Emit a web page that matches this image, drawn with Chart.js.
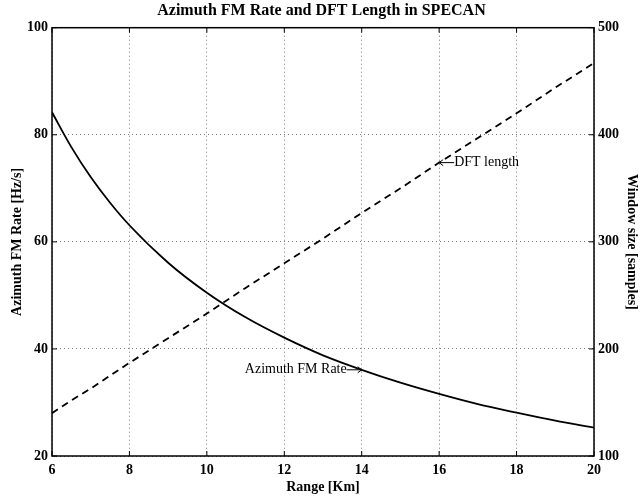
<!DOCTYPE html>
<html>
<head>
  <title>Azimuth FM Rate and DFT Length in SPECAN</title>
  <script src="https://cdn.jsdelivr.net/npm/chart.js@4.4.0/dist/chart.umd.min.js"></script>
  <style>
    body { margin: 0; background: #fff; }
    #chart { display: block; }
  </style>
</head>
<body>
  <canvas id="chart" width="643" height="498"></canvas>

  <script>
// values
var ranges = [6, 6.5, 7, 7.5, 8, 9, 10, 11, 12, 13, 14, 15, 16, 17, 18, 19, 20];
var fmRate = [84.2, 77.7, 72.1, 67.3, 63.1, 56.1, 50.5, 45.9, 42.1, 38.8, 36.1, 33.7, 31.6, 29.7, 28.1, 26.6, 25.3];
var dftLength = [140, 152, 163, 175, 187, 210, 233, 257, 280, 303, 327, 350, 374, 397, 420, 444, 467];

var xTicks = [6, 8, 10, 12, 14, 16, 18, 20];
var leftTicks = [20, 40, 60, 80, 100];
var rightTicks = [100, 200, 300, 400, 500];

var serif = "'Liberation Serif', 'Times New Roman', serif";

function points(xs, ys) {
  return xs.map(function(x, i) { return { x: x, y: ys[i] }; });
}

// little arrow drawn with lines, the font's arrow glyph comes out too faint
function arrow(ctx, x0, x1, y) {
  var dir = x1 > x0 ? 1 : -1;
  ctx.beginPath();
  ctx.moveTo(x0, y); ctx.lineTo(x1, y);
  ctx.moveTo(x1 - dir * 4, y - 3); ctx.lineTo(x1, y); ctx.lineTo(x1 - dir * 4, y + 3);
  ctx.stroke();
}

// black box round the plot with small inward ticks, like matlab
var framePlugin = {
  id: 'frame',
  afterDatasetsDraw: function(chart) {
    var ctx = chart.ctx, a = chart.chartArea, s = chart.scales;
    ctx.save();
    ctx.strokeStyle = '#000';
    ctx.lineWidth = 1;
    ctx.beginPath();
    xTicks.forEach(function(v) {
      var px = s.x.getPixelForValue(v);
      ctx.moveTo(px, a.bottom); ctx.lineTo(px, a.bottom - 5);
      ctx.moveTo(px, a.top); ctx.lineTo(px, a.top + 5);
    });
    leftTicks.forEach(function(v) {
      var py = s.y.getPixelForValue(v);
      ctx.moveTo(a.left, py); ctx.lineTo(a.left + 5, py);
    });
    rightTicks.forEach(function(v) {
      var py = s.y2.getPixelForValue(v);
      ctx.moveTo(a.right, py); ctx.lineTo(a.right - 5, py);
    });
    ctx.stroke();
    ctx.lineWidth = 1.5;
    ctx.strokeRect(a.left, a.top, a.right - a.left, a.bottom - a.top);

    // text arrows pointing at the curves
    ctx.fillStyle = '#000';
    ctx.font = '14px ' + serif;
    ctx.textBaseline = 'middle';
    ctx.lineWidth = 1;
    var i = ranges.indexOf(14);
    var ax = s.x.getPixelForValue(14), ay = s.y.getPixelForValue(fmRate[i]);
    ctx.textAlign = 'right';
    ctx.fillText('Azimuth FM Rate', ax - 15, ay);
    arrow(ctx, ax - 15, ax, ay);
    var j = ranges.indexOf(16);
    var bx = s.x.getPixelForValue(16), by = s.y2.getPixelForValue(dftLength[j]);
    ctx.textAlign = 'left';
    ctx.fillText('DFT length', bx + 15, by);
    arrow(ctx, bx + 15, bx, by);
    ctx.restore();
  }
};

var tickFont = { family: serif, size: 14, weight: 'bold' };
var gridOpts = { color: '#777', lineWidth: 1, drawTicks: false };
var dotted = { display: false, dash: [1, 3] };

var chart = new Chart(document.getElementById('chart').getContext('2d'), {
  type: 'line',
  data: {
    datasets: [{
      label: 'Azimuth FM Rate',
      data: points(ranges, fmRate),
      yAxisID: 'y',
      borderColor: '#000',
      borderWidth: 1.8,
      pointRadius: 0,
      cubicInterpolationMode: 'monotone'
    }, {
      label: 'DFT length',
      data: points(ranges, dftLength),
      yAxisID: 'y2',
      borderColor: '#000',
      borderWidth: 1.8,
      borderDash: [7, 5],
      pointRadius: 0
    }]
  },
  options: {
    responsive: false,
    animation: false,
    devicePixelRatio: 1,
    layout: { padding: 0 },
    plugins: {
      legend: { display: false },
      tooltip: { enabled: false },
      title: {
        display: true,
        text: 'Azimuth FM Rate and DFT Length in SPECAN',
        color: '#000',
        font: { family: serif, size: 16, weight: 'bold' },
        padding: { top: 1.5, bottom: 7 }
      }
    },
    scales: {
      x: {
        type: 'linear',
        min: 6, max: 20,
        afterBuildTicks: function(s) { s.ticks = xTicks.map(function(v) { return { value: v }; }); },
        afterFit: function(s) { s.height = 42; },
        ticks: { color: '#000', font: tickFont, padding: 6, maxRotation: 0 },
        grid: gridOpts,
        border: dotted,
        title: { display: true, text: 'Range [Km]', color: '#000', font: tickFont, padding: { top: 0, bottom: 2.6 } }
      },
      y: {
        position: 'left',
        min: 20, max: 100,
        afterBuildTicks: function(s) { s.ticks = leftTicks.map(function(v) { return { value: v }; }); },
        afterFit: function(s) { s.width = 52; },
        ticks: { color: '#000', font: tickFont, padding: 4 },
        grid: gridOpts,
        border: dotted,
        title: { display: true, text: 'Azimuth FM Rate [Hz/s]', color: '#000', font: tickFont, padding: { top: 9, bottom: 0 } }
      },
      y2: {
        position: 'right',
        min: 100, max: 500,
        afterBuildTicks: function(s) { s.ticks = rightTicks.map(function(v) { return { value: v }; }); },
        afterFit: function(s) { s.width = 49; },
        ticks: { color: '#000', font: tickFont, padding: 4 },
        grid: { display: false, drawTicks: false },
        border: { display: false },
        title: { display: true, text: 'Window size [samples]', color: '#000', font: tickFont, padding: { top: 2.6, bottom: 0 } }
      }
    }
  },
  plugins: [framePlugin]
});
  </script>
</body>
</html>
